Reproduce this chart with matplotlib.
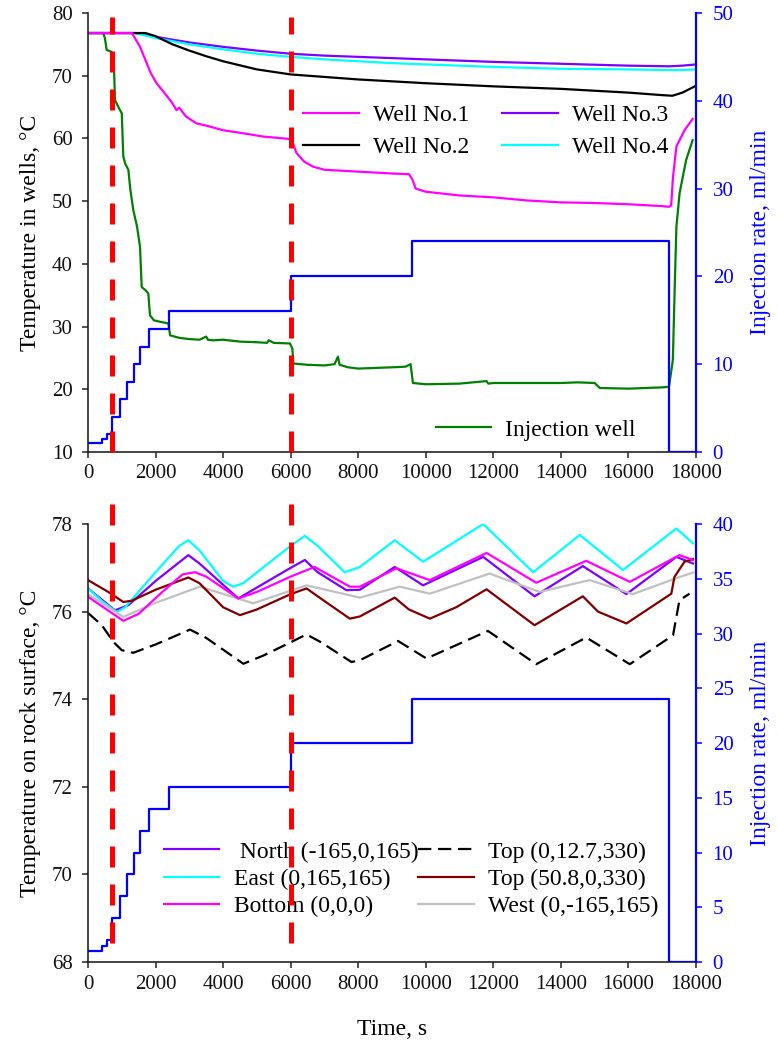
import matplotlib
matplotlib.use("Agg")
import matplotlib.pyplot as plt

plt.rcParams['font.family'] = ['Liberation Serif', 'DejaVu Serif']

# ---------------- injection schedule (ml/min) ----------------
rate_t = [0, 400, 550, 700, 950, 1150, 1350, 1550, 1800, 2400, 6000, 9600, 17200, 18000]
rate_q = [1, 1.5, 2, 4, 6, 8, 10, 12, 14, 16, 20, 24, 0, 0]

# times of the two flow-stage markers (s)
stage_marks = [720, 6000]

# ---------------- temperatures in wells (deg C) ----------------
well1_t = [0, 1300, 1540, 1700, 1850, 2030, 2300, 2500, 2620, 2700, 2900, 3210, 3600, 4000,
           4500, 5180, 5980, 6050, 6170, 6400, 6660, 7000, 8000, 9000, 9500, 9600, 9700,
           10000, 11000, 12000, 13000, 14000, 15000, 16000, 17000, 17200, 17265, 17320,
           17420, 17660, 17900]
well1_T = [76.8, 76.8, 74.6, 72.5, 70.5, 68.8, 67.0, 65.6, 64.5, 64.9, 63.5, 62.4, 61.9, 61.3,
           60.9, 60.3, 59.9, 59.5, 57.7, 56.3, 55.5, 55.0, 54.7, 54.4, 54.3, 53.5, 52.0,
           51.5, 50.9, 50.6, 50.1, 49.8, 49.7, 49.5, 49.2, 49.1, 49.3, 53.9,
           58.7, 61.3, 63.1]

well2_t = [0, 1700, 2000, 2500, 3000, 3500, 4000, 5000, 6000, 7000, 8000, 10000, 12000,
           14000, 16000, 17000, 17300, 17600, 18000]
well2_T = [76.8, 76.8, 76.3, 75.0, 74.0, 73.1, 72.3, 71.0, 70.2, 69.8, 69.4, 68.8, 68.3,
           67.9, 67.3, 66.9, 66.8, 67.3, 68.4]

well3_t = [0, 1400, 2000, 3000, 4000, 5000, 6000, 7000, 9000, 12000, 14000, 16000, 17200,
           17600, 18000]
well3_T = [76.8, 76.8, 76.2, 75.3, 74.6, 74.0, 73.5, 73.2, 72.8, 72.2, 71.9, 71.6, 71.5,
           71.6, 71.8]

well4_t = [0, 1400, 2000, 3000, 4000, 5000, 6000, 7000, 9000, 12000, 14000, 16000, 17200,
           17600, 18000]
well4_T = [76.8, 76.8, 76.0, 75.0, 74.2, 73.5, 73.0, 72.6, 72.0, 71.4, 71.1, 71.0, 70.9,
           70.9, 71.0]

inj_t = [0, 450, 500, 553, 700, 760, 800, 900, 1000, 1045, 1100, 1195, 1250, 1340, 1450,
         1540, 1590, 1700, 1785, 1835, 1950, 2100, 2380, 2430, 2700, 3000, 3300, 3500,
         3550, 3700, 4000, 4500, 5000, 5300, 5350, 5500, 5980, 6050, 6080, 6500, 7000,
         7300, 7400, 7450, 7700, 8000, 8500, 9000, 9400, 9550, 9620, 10000, 11000, 11800,
         11850, 12000, 13000, 14000, 14500, 15000, 15150, 16000, 17000, 17200, 17315,
         17370, 17420, 17515, 17710, 17900]
inj_T = [76.8, 76.8, 76.0, 74.1, 73.8, 73.0, 66.1, 65.0, 64.0, 57.1, 56.0, 55.0, 52.0, 48.6,
         46.0, 42.7, 36.3, 35.8, 35.3, 31.8, 31.0, 30.8, 30.5, 28.6, 28.2, 28.0, 27.9, 28.4,
         27.9, 27.8, 27.9, 27.6, 27.5, 27.4, 27.8, 27.4, 27.3, 26.5, 24.1, 23.9, 23.8,
         24.0, 25.2, 23.9, 23.5, 23.3, 23.4, 23.5, 23.6, 24.0, 21.0, 20.8, 20.9, 21.3,
         20.9, 21.0, 21.0, 21.0, 21.1, 21.0, 20.2, 20.1, 20.3, 20.4, 24.7,
         36.3, 45.9, 51.3, 56.6, 59.7]

# ---------------- temperatures on rock surface (deg C) ----------------
north_t = [0, 800, 1200, 2000, 2970, 3300, 4450, 5000, 6000, 6420, 6800, 7650, 8050, 9080,
           9920, 11700, 13220, 14650, 15940, 17420, 17910]
north_T = [76.53, 76.03, 76.15, 76.7, 77.29, 77.1, 76.3, 76.55, 77.0, 77.18, 76.9, 76.49,
           76.5, 77.02, 76.6, 77.25, 76.35, 77.04, 76.4, 77.25, 77.1]

east_t = [0, 400, 850, 1100, 2000, 2700, 2970, 3300, 4000, 4300, 4600, 5500, 6000, 6420,
          6800, 7600, 8050, 9080, 9920, 11700, 13180, 14560, 15840, 17420, 17910]
east_T = [76.53, 76.25, 75.99, 76.1, 76.9, 77.5, 77.63, 77.4, 76.7, 76.57, 76.65, 77.2,
          77.5, 77.73, 77.5, 76.9, 77.02, 77.63, 77.14, 78.0, 76.9, 77.75, 76.95, 77.9, 77.56]

bottom_t = [0, 1045, 1500, 2200, 2800, 3165, 3500, 4450, 5000, 6000, 6710, 7750, 8050, 9130,
            10120, 11800, 13270, 14750, 16040, 17510, 17910]
bottom_T = [76.34, 75.79, 75.95, 76.45, 76.85, 76.9, 76.8, 76.3, 76.45, 76.8, 77.02, 76.57,
            76.57, 76.99, 76.72, 77.34, 76.66, 77.16, 76.68, 77.29, 77.18]

west_t = [0, 1045, 2000, 3310, 4890, 6470, 8050, 9230, 10120, 11890, 13370, 14850, 16130,
          17510, 17910]
west_T = [76.4, 75.88, 76.2, 76.57, 76.19, 76.6, 76.32, 76.57, 76.41, 76.87, 76.45, 76.72,
          76.4, 76.79, 76.89]

top508_t = [0, 600, 1045, 1300, 2000, 2970, 3300, 4000, 4500, 5000, 6000, 6470, 6800, 7750,
            8050, 9080, 9500, 10120, 10900, 11800, 13220, 14650, 15100, 15940, 17270, 17360,
            17660, 17910]
top508_T = [76.72, 76.45, 76.22, 76.25, 76.5, 76.78, 76.65, 76.1, 75.92, 76.05, 76.4, 76.53,
            76.35, 75.84, 75.89, 76.32, 76.05, 75.84, 76.1, 76.51, 75.69, 76.35, 76.0, 75.73,
            76.41, 76.79, 77.14, 77.2]

top127_t = [0, 400, 750, 1000, 1340, 2000, 3020, 3500, 4600, 5200, 6000, 6470, 6900, 7800,
            8050, 9180, 10020, 11840, 13270, 14750, 16040, 17320, 17510, 17810]
top127_T = [75.97, 75.7, 75.31, 75.12, 75.06, 75.25, 75.59, 75.4, 74.81, 75.0, 75.3, 75.48,
            75.3, 74.85, 74.89, 75.33, 74.93, 75.56, 74.8, 75.41, 74.8, 75.46, 76.26, 76.41]

time_ticks = list(range(0, 18001, 2000))

BLUE = '#0000FF'
RED = '#FF0000'
FS_TICK = 15
FS_LAB = 17

fig = plt.figure(figsize=(7.78, 10.46), dpi=100)
ax1 = fig.add_axes([0.1131, 0.5679, 0.7815, 0.4197])
ax2 = fig.add_axes([0.1131, 0.0803, 0.7815, 0.4187])


def style_axes(ax, axr):
    ax.spines['top'].set_visible(False)
    ax.spines['right'].set_visible(False)
    ax.spines['left'].set_color('#222222')
    ax.spines['bottom'].set_color('#222222')
    ax.spines['left'].set_linewidth(1.2)
    ax.spines['bottom'].set_linewidth(1.2)
    ax.tick_params(axis='y', direction='out', length=4, width=1.1, labelsize=FS_TICK,
                   pad=7, colors='#222222', labelcolor='#111111')
    ax.tick_params(axis='x', direction='out', length=4, width=1.1, labelsize=FS_TICK,
                   pad=5, colors='#222222', labelcolor='#111111')
    axr.spines['top'].set_visible(False)
    axr.spines['left'].set_visible(False)
    axr.spines['bottom'].set_visible(False)
    axr.spines['right'].set_color(BLUE)
    axr.spines['right'].set_linewidth(1.6)
    axr.tick_params(direction='out', length=4, width=1.1, labelsize=FS_TICK, pad=8,
                    colors=BLUE, labelcolor=BLUE)
    ax.set_xlim(time_ticks[0], time_ticks[-1])
    ax.set_xticks(time_ticks)


# ---------------- upper panel ----------------
ax1r = ax1.twinx()
style_axes(ax1, ax1r)
lw = 1.6
l_inj, = ax1.plot(inj_t, inj_T, color='#008000', lw=lw, label='Injection well')
l3, = ax1.plot(well3_t, well3_T, color='#7F00FF', lw=lw, label='Well No.3')
l4, = ax1.plot(well4_t, well4_T, color='#00FFFF', lw=lw, label='Well No.4')
l2, = ax1.plot(well2_t, well2_T, color='black', lw=lw, label='Well No.2')
l1, = ax1.plot(well1_t, well1_T, color='#FF00FF', lw=lw, label='Well No.1')
ax1.set_ylim(10, 80)
ax1.set_yticks(range(10, 81, 10))
ax1.set_ylabel('Temperature in wells, °C', fontsize=FS_LAB, labelpad=8)

ax1r.step(rate_t, rate_q, where='post', color=BLUE, lw=lw)
ax1r.set_ylim(0, 50)
ax1r.set_yticks(range(0, 51, 10))
ax1r.set_ylabel('Injection rate, ml/min', fontsize=FS_LAB, color=BLUE, labelpad=12)
for xm in stage_marks:
    ax1r.axvline(xm, ymin=0.0, ymax=0.99, color=RED, lw=3.6, dashes=(4.2, 3.4),
                 clip_on=False, zorder=5)

leg_w = ax1.legend(handles=[l1, l2, l3, l4], ncol=2, loc='upper left',
                   bbox_to_anchor=(0.354, 0.792), frameon=False, borderpad=0,
                   borderaxespad=0, handlelength=2.35, handletextpad=0.6,
                   columnspacing=1.4, labelspacing=0.45, fontsize=FS_LAB)
ax1.add_artist(leg_w)
ax1.legend(handles=[l_inj], loc='upper left', bbox_to_anchor=(0.572, 0.075),
           frameon=False, borderpad=0, borderaxespad=0, handlelength=2.35,
           handletextpad=0.6, fontsize=FS_LAB)

# ---------------- lower panel ----------------
ax2r = ax2.twinx()
style_axes(ax2, ax2r)
ln, = ax2.plot(north_t, north_T, color='#7F00FF', lw=lw, label=' North (-165,0,165)')
le, = ax2.plot(east_t, east_T, color='#00FFFF', lw=lw, label='East (0,165,165)')
lw_, = ax2.plot(west_t, west_T, color='#C0C0C0', lw=lw, label='West (0,-165,165)')
lt2, = ax2.plot(top508_t, top508_T, color='#800000', lw=lw, label='Top (50.8,0,330)')
lb, = ax2.plot(bottom_t, bottom_T, color='#FF00FF', lw=lw, label='Bottom (0,0,0)')
lt1, = ax2.plot(top127_t, top127_T, color='black', lw=lw, dashes=(6, 3),
                label='Top (0,12.7,330)')
ax2.set_ylim(68, 78)
ax2.set_yticks(range(68, 79, 2))
ax2.set_ylabel('Temperature on rock surface, °C', fontsize=FS_LAB, labelpad=8)
ax2.set_xlabel('Time, s', fontsize=FS_LAB, labelpad=18)

ax2r.step(rate_t, rate_q, where='post', color=BLUE, lw=lw)
ax2r.set_ylim(0, 40)
ax2r.set_yticks(range(0, 41, 5))
ax2r.set_ylabel('Injection rate, ml/min', fontsize=FS_LAB, color=BLUE, labelpad=12)
for xm in stage_marks:
    ax2r.axvline(xm, ymin=0.043, ymax=1.073, color=RED, lw=3.6, dashes=(4.2, 3.4),
                 clip_on=False, zorder=5)

ax2.legend(handles=[ln, le, lb, lt1, lt2, lw_], ncol=2, loc='upper left',
           bbox_to_anchor=(0.125, 0.276), frameon=False, borderpad=0, borderaxespad=0,
           handlelength=2.35, handletextpad=0.6, columnspacing=0.0, labelspacing=0.25,
           fontsize=FS_LAB)

fig.savefig('out.png', dpi=100)
